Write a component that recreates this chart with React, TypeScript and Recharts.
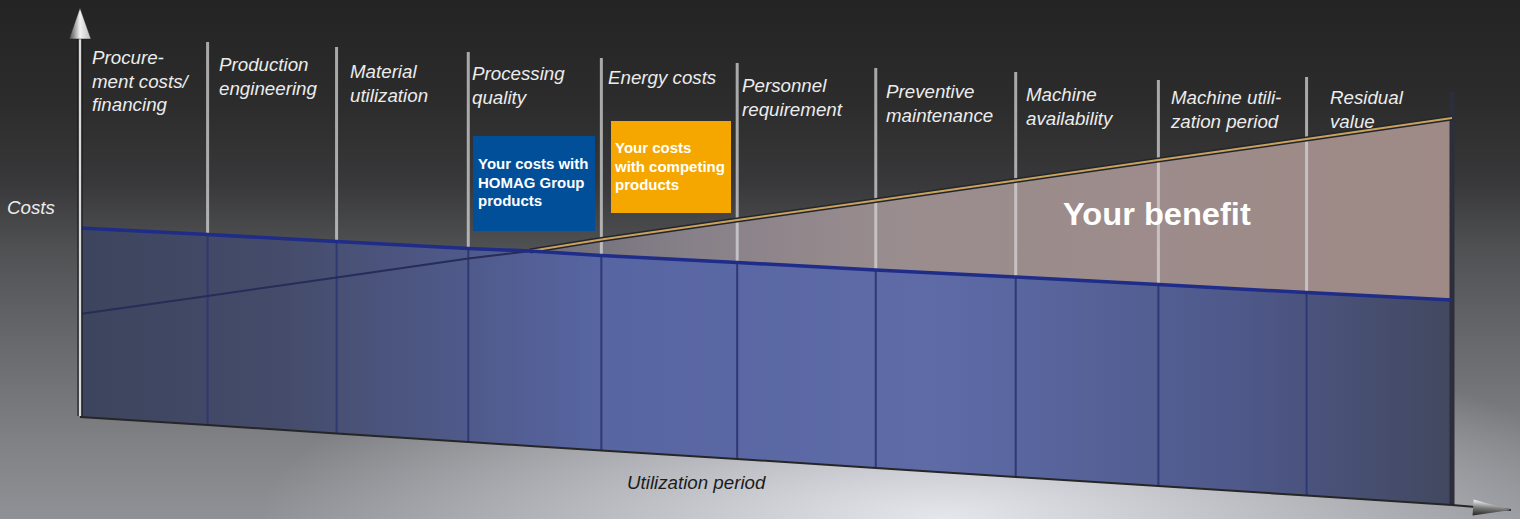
import React from 'react';
import { ComposedChart, Area, Line, XAxis, YAxis, ReferenceLine, ReferenceDot } from 'recharts';

// positions along the utilization period (0..10) where values were read
const periods = [0, 0.93, 1.87, 2.83, 3.28, 3.8, 4.79, 5.8, 6.82, 7.86, 8.94, 10];
const homagCosts = [58.2, 56.9, 55.5, 54.1, 53.6, 52.7, 51.3, 49.8, 48.4, 46.9, 45.3, 43.8];
const competingCosts = [41.0, 44.6, 48.3, 52.1, 53.6, 55.9, 59.8, 63.7, 67.7, 71.8, 76.0, 80.2];
const floorCosts = [20.4, 18.8, 17.1, 15.4, 14.6, 13.7, 12.0, 10.2, 8.4, 6.6, 4.7, 2.8];

const categories = [
  'Procure-\nment costs/\nfinancing',
  'Production\nengineering',
  'Material\nutilization',
  'Processing\nquality',
  'Energy costs',
  'Personnel\nrequirement',
  'Preventive\nmaintenance',
  'Machine\navailability',
  'Machine utili-\nzation period',
  'Residual\nvalue',
];

const dividerPeriods = [0.93, 1.87, 2.83, 3.8, 4.79, 5.8, 6.82, 7.86, 8.94, 10];
const dividerTops = [95.4, 94.4, 93.4, 92.2, 91.2, 90.2, 89.4, 87.8, 88.4, 85.4];

const crossIdx = 4;

const data = periods.map((p, i) => ({
  p,
  base: [floorCosts[i], homagCosts[i]],
  benefit: [homagCosts[i], Math.max(homagCosts[i], competingCosts[i])],
  homag: homagCosts[i],
  compLow: i <= crossIdx ? competingCosts[i] : null,
  compHigh: i >= crossIdx ? competingCosts[i] : null,
  floor: floorCosts[i],
}));

// label placement (px)
const labelPos = [
  [92, 47], [219, 54], [350, 61], [472, 63], [608, 67],
  [742, 75], [886, 81], [1026, 84], [1171, 87], [1330, 87],
];

const font = '"Liberation Sans", Arial, Helvetica, sans-serif';

const stretch = (s: number): React.CSSProperties => ({ transform: `scaleX(${s})`, transformOrigin: 'left top' });

const upArrow = (props: any) => {
  const { cx, cy } = props;
  return <polygon points={`${cx},${cy} ${cx - 11},${cy + 31} ${cx + 11},${cy + 31}`} fill="url(#arrowFill)" stroke="#222" strokeWidth={0.5} />;
};

const rightArrow = (props: any) => {
  const { cx, cy } = props;
  return (
    <g transform={`rotate(3.7 ${cx} ${cy})`}>
      <polygon points={`${cx},${cy} ${cx - 38},${cy - 8} ${cx - 38},${cy + 8}`} fill="url(#arrowFill2)" />
    </g>
  );
};

export default function App() {
  return (
    <div
      style={{
        position: 'absolute',
        left: 0,
        top: 0,
        width: 1520,
        height: 519,
        overflow: 'hidden',
        fontFamily: font,
        background:
          'radial-gradient(ellipse 45% 38% at 62% 100%, rgba(238,240,246,0.9), rgba(238,240,246,0) 100%), linear-gradient(to bottom, #242424 0%, #2c2c2c 20%, #38383a 35%, #505153 48%, #696a6e 67%, #7f8185 85%, #8f9196 100%)',
      }}
    >
      <ComposedChart width={1520} height={519} data={data} margin={{ top: 9, right: 68, bottom: 0, left: 80 }}>
        <defs>
          <linearGradient id="blueFill" x1="0" y1="0" x2="1" y2="0">
            <stop offset="0" stopColor="#3d445d" />
            <stop offset="0.15" stopColor="#454c6b" />
            <stop offset="0.38" stopColor="#5765a2" />
            <stop offset="0.62" stopColor="#5e6ba7" />
            <stop offset="0.85" stopColor="#4e5889" />
            <stop offset="1" stopColor="#42485f" />
          </linearGradient>
          <linearGradient id="tanFill" x1="0" y1="0" x2="1" y2="0">
            <stop offset="0.33" stopColor="#6e6d78" />
            <stop offset="0.45" stopColor="#888189" />
            <stop offset="0.6" stopColor="#9a8d8e" />
            <stop offset="1" stopColor="#9f8a86" />
          </linearGradient>
          <linearGradient id="arrowFill" x1="0" y1="0" x2="1" y2="0">
            <stop offset="0" stopColor="#444" />
            <stop offset="0.5" stopColor="#f2f2f2" />
            <stop offset="1" stopColor="#bbb" />
          </linearGradient>
          <linearGradient id="arrowFill2" x1="0" y1="0" x2="0" y2="1">
            <stop offset="0" stopColor="#f4f4f4" />
            <stop offset="0.5" stopColor="#777" />
            <stop offset="1" stopColor="#222" />
          </linearGradient>
        </defs>
        <XAxis dataKey="p" type="number" domain={[0, 10]} hide />
        <YAxis type="number" domain={[0, 102]} hide />

        <Area dataKey="benefit" type="linear" fill="url(#tanFill)" fillOpacity={1} stroke="none" isAnimationActive={false} />
        <Area dataKey="base" type="linear" fill="url(#blueFill)" fillOpacity={1} stroke="none" isAnimationActive={false} />

        {dividerPeriods.map((p, i) => {
          const k = periods.indexOf(p);
          const last = i === dividerPeriods.length - 1;
          return (
            <ReferenceLine
              key={`dl-${i}`}
              segment={[{ x: p, y: dividerTops[i] }, { x: p, y: homagCosts[k] }]}
              stroke={last ? '#2c2f3b' : '#d4d4d4'}
              strokeOpacity={last ? 1 : 0.75}
              strokeWidth={last ? 5 : 3}
              ifOverflow="visible"
            />
          );
        })}
        {dividerPeriods.map((p, i) => {
          const k = periods.indexOf(p);
          const last = i === dividerPeriods.length - 1;
          return (
            <ReferenceLine
              key={`dd-${i}`}
              segment={[{ x: p, y: homagCosts[k] }, { x: p, y: floorCosts[k] }]}
              stroke={last ? '#2c2f3b' : '#2e3874'}
              strokeWidth={last ? 5 : 2}
              ifOverflow="visible"
            />
          );
        })}

        <Line dataKey="compLow" type="linear" stroke="#272c58" strokeWidth={2} dot={false} activeDot={false} isAnimationActive={false} />
        <Line dataKey="compHigh" type="linear" stroke="#24262e" strokeWidth={5} dot={false} activeDot={false} isAnimationActive={false} />
        <Line dataKey="compHigh" type="linear" stroke="#c9a35b" strokeWidth={2} dot={false} activeDot={false} isAnimationActive={false} />
        <Line dataKey="homag" type="linear" stroke="#1f2c88" strokeWidth={3.5} dot={false} activeDot={false} isAnimationActive={false} />
        <Line dataKey="floor" type="linear" stroke="#262626" strokeWidth={2} dot={false} activeDot={false} isAnimationActive={false} />

        <ReferenceLine segment={[{ x: 10, y: 2.8 }, { x: 10.43, y: 1.8 }]} stroke="#262626" strokeWidth={2} ifOverflow="visible" />
        <ReferenceLine segment={[{ x: 0, y: 20.6 }, { x: 0, y: 96.4 }]} stroke="#111" strokeWidth={5} ifOverflow="visible" />
        <ReferenceLine segment={[{ x: 0, y: 20.6 }, { x: 0, y: 96.4 }]} stroke="#dadada" strokeWidth={2.5} ifOverflow="visible" />
        <ReferenceDot x={0} y={102.2} r={1} ifOverflow="visible" shape={upArrow} />
        <ReferenceDot x={10.43} y={1.8} r={1} ifOverflow="visible" shape={rightArrow} />
      </ComposedChart>

      {categories.map((c, i) => (
        <div
          key={c}
          style={{
            position: 'absolute',
            left: labelPos[i][0],
            top: labelPos[i][1],
            color: '#ececec',
            fontStyle: 'italic',
            fontSize: 17.5,
            lineHeight: '23.5px',
            whiteSpace: 'pre',
            ...stretch(1.07),
          }}
        >
          {c}
        </div>
      ))}

      <div style={{ position: 'absolute', left: 7, top: 196, color: '#ececec', fontStyle: 'italic', fontSize: 17.5, lineHeight: '24px', ...stretch(1.07) }}>
        Costs
      </div>
      <div style={{ position: 'absolute', left: 627, top: 471, color: '#1c1c1c', fontStyle: 'italic', fontSize: 17.5, lineHeight: '24px', ...stretch(1.07) }}>
        Utilization period
      </div>
      <div style={{ position: 'absolute', left: 1063, top: 195, color: '#ffffff', fontWeight: 700, fontSize: 31.5, lineHeight: '38px', ...stretch(1.035) }}>
        Your benefit
      </div>

      <div
        style={{
          position: 'absolute',
          left: 473,
          top: 136,
          width: 122,
          height: 95,
          boxSizing: 'border-box',
          padding: '19px 0 0 5px',
          background: '#004f98',
          color: '#fff',
          fontWeight: 700,
          fontSize: 14,
          lineHeight: '18.5px',
          whiteSpace: 'pre',
        }}
      >
        <div style={stretch(1.07)}>{'Your costs with\nHOMAG Group\nproducts'}</div>
      </div>
      <div
        style={{
          position: 'absolute',
          left: 611,
          top: 121,
          width: 120,
          height: 92,
          boxSizing: 'border-box',
          padding: '18px 0 0 4px',
          background: '#f5a700',
          color: '#fff',
          fontWeight: 700,
          fontSize: 14,
          lineHeight: '18.5px',
          whiteSpace: 'pre',
        }}
      >
        <div style={stretch(1.07)}>{'Your costs\nwith competing\nproducts'}</div>
      </div>
    </div>
  );
}
